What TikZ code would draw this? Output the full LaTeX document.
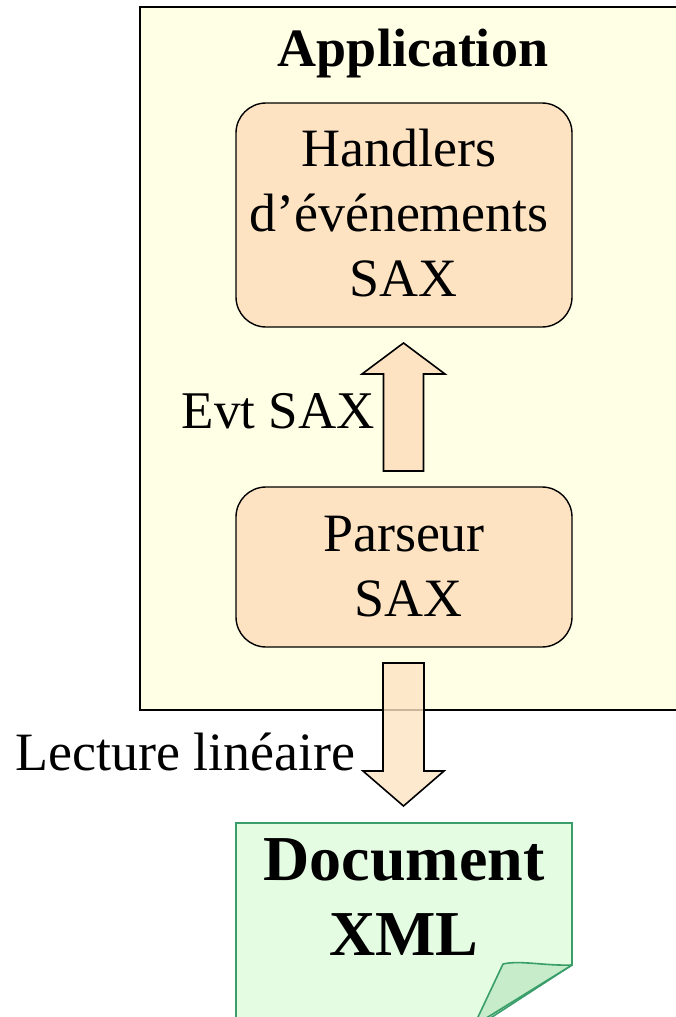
\documentclass[tikz,border=0pt]{standalone}
\usepackage{fontspec}
\setmainfont{Liberation Serif}
\definecolor{appbg}{RGB}{255,255,230}
\definecolor{peach}{RGB}{253,227,194}
\definecolor{docbg}{RGB}{228,252,226}
\definecolor{docfold}{RGB}{198,236,202}
\definecolor{docline}{RGB}{58,158,106}
\tikzset{
  procbox/.style={draw=black, line width=1.4pt, fill=peach, rounded corners=30pt,
    minimum width=336pt, align=center, inner sep=0pt,
    font=\fontsize{54}{65}\selectfont},
  blockarrow/.style={draw=black, line width=1.6pt, fill=peach, line join=miter},
  lbl/.style={font=\fontsize{54}{65}\selectfont, inner sep=0pt},
}
\begin{document}
\begin{tikzpicture}[x=1pt,y=-1pt]
  \useasboundingbox (0,0) rectangle (676,1017);
  \clip (0,0) rectangle (676,1017);
  % application frame (runs off to the right)
  \draw[line width=2pt, fill=appbg] (140,7) rectangle (690,710);
  \node[font=\bfseries\fontsize{54}{60}\selectfont, anchor=base, inner sep=0pt]
    (apptitle) at (413,66) {Application};
  % the two processing boxes
  \node[procbox, minimum height=224pt] (handlers) at (404,215) {};
  \node[align=center, inner sep=0pt, font=\fontsize{54}{65}\selectfont]
    (handlerstxt) at ([xshift=-5pt,yshift=2pt]handlers.center)
    {Handlers\\d’événements\\\,SAX};
  \node[procbox, minimum height=160pt] (parseur) at (404,567)
    {Parseur\\\,SAX};
  % events going up from the parser to the handlers
  \coordinate (evtbase) at (403.5,471);
  \coordinate (evttip) at (403.5,343);
  \draw[blockarrow]
    ([xshift=-20pt]evtbase) -- ([xshift=-20pt]evttip |- 0,374)
    -- ([xshift=-41.5pt]evttip |- 0,374) -- (evttip)
    -- ([xshift=41.5pt]evttip |- 0,374) -- ([xshift=20pt]evttip |- 0,374)
    -- ([xshift=20pt]evtbase) -- cycle;
  \node[lbl, anchor=base east, font=\fontsize{53}{65}\selectfont] (evtlbl) at (375,428) {Evt SAX};
  % reading the document
  \coordinate (lectbase) at (403.5,663);
  \coordinate (lecttip) at (403.5,806);
  \draw[blockarrow, fill opacity=0.8]
    ([xshift=-20.5pt]lectbase) -- ([xshift=-20.5pt]lecttip |- 0,771)
    -- ([xshift=-40.5pt]lecttip |- 0,771) -- (lecttip)
    -- ([xshift=40.5pt]lecttip |- 0,771) -- ([xshift=20.5pt]lecttip |- 0,771)
    -- ([xshift=20.5pt]lectbase) -- cycle;
  \node[lbl, anchor=base west] (lectlbl) at (15,770) {Lecture linéaire};
  % XML document with a curled corner
  \draw[docline, line width=1.6pt, fill=docbg]
    (236,1030) -- (236,823) -- (572,823) -- (572,965) -- (472,1030);
  \draw[docline, line width=1.6pt, fill=docfold, line join=round]
    (572,965) .. controls (545,966) and (520,960) .. (503,964) -- (478,1017) -- (475,1025) -- cycle;
  \node[font=\bfseries\fontsize{64}{75}\selectfont, align=center, inner sep=0pt,
        anchor=base] (doc) at (404,955) {Document\\XML};
\end{tikzpicture}
\end{document}
